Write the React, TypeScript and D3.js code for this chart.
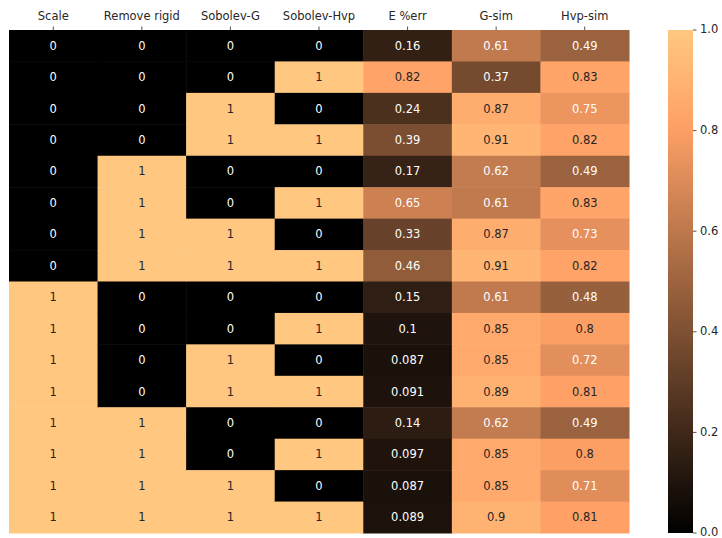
import React from "react";
import * as d3 from "d3";

// columns of the heatmap, left to right
const columns = ["Scale", "Remove rigid", "Sobolev-G", "Sobolev-Hvp", "E %err", "G-sim", "Hvp-sim"];

const scaleVals = [0, 0, 0, 0, 0, 0, 0, 0, 1, 1, 1, 1, 1, 1, 1, 1];
const removeRigid = [0, 0, 0, 0, 1, 1, 1, 1, 0, 0, 0, 0, 1, 1, 1, 1];
const sobolevG = [0, 0, 1, 1, 0, 0, 1, 1, 0, 0, 1, 1, 0, 0, 1, 1];
const sobolevHvp = [0, 1, 0, 1, 0, 1, 0, 1, 0, 1, 0, 1, 0, 1, 0, 1];
const eErr = [0.16, 0.82, 0.24, 0.39, 0.17, 0.65, 0.33, 0.46, 0.15, 0.1, 0.087, 0.091, 0.14, 0.097, 0.087, 0.089];
const gSim = [0.61, 0.37, 0.87, 0.91, 0.62, 0.61, 0.87, 0.91, 0.61, 0.85, 0.85, 0.89, 0.62, 0.85, 0.85, 0.9];
const hvpSim = [0.49, 0.83, 0.75, 0.82, 0.49, 0.83, 0.73, 0.82, 0.48, 0.8, 0.72, 0.81, 0.49, 0.8, 0.71, 0.81];

const colorTicks = [0, 0.2, 0.4, 0.6, 0.8, 1.0];

const W = 722;
const H = 538;
const plot = { left: 9, right: 629, top: 30, bottom: 533 };
const cbar = { left: 668, width: 25 };
const FONT = "DejaVu Sans, sans-serif";
const FS = 11.5;

// matplotlib "copper"
function copper(v: number): string {
  const t = Math.max(0, Math.min(1, v));
  const r = Math.min(1, t / 0.809524);
  const g = 0.7812 * t;
  const b = 0.4975 * t;
  return d3.rgb(r * 255, g * 255, b * 255).formatHex();
}

// seaborn picks the annotation colour from the cell luminance
function textColor(fill: string): string {
  const c = d3.rgb(fill);
  const lin = (x: number) => {
    const s = x / 255;
    return s <= 0.03928 ? s / 12.92 : Math.pow((s + 0.055) / 1.055, 2.4);
  };
  const L = 0.2126 * lin(c.r) + 0.7152 * lin(c.g) + 0.0722 * lin(c.b);
  return L > 0.408 ? "#262626" : "#ffffff";
}

function fmt(v: number): string {
  return String(Number(v.toPrecision(2)));
}

export default function App() {
  const series = [scaleVals, removeRigid, sobolevG, sobolevHvp, eErr, gSim, hvpSim];
  const nRows = scaleVals.length;

  const x = d3.scaleBand<string>().domain(columns).range([plot.left, plot.right]);
  const y = d3
    .scaleBand<number>()
    .domain(d3.range(nRows))
    .range([plot.top, plot.bottom]);
  const cy = d3.scaleLinear().domain([0, 1]).range([plot.bottom, plot.top]);

  const gradStops = d3.range(0, 1.0001, 0.05);

  return (
    <svg
      width={W}
      height={H}
      style={{ position: "absolute", left: 0, top: 0, background: "#fff" }}
      fontFamily={FONT}
    >
      <defs>
        <linearGradient id="cmap" x1="0" y1="1" x2="0" y2="0">
          {gradStops.map((s) => (
            <stop key={s} offset={s} stopColor={copper(s)} />
          ))}
        </linearGradient>
      </defs>

      {/* cells */}
      {columns.map((col, ci) =>
        series[ci].map((v, ri) => {
          const fill = copper(v);
          const x0 = x(col)!;
          const y0 = y(ri)!;
          return (
            <g key={col + ri}>
              <rect
                x={x0}
                y={y0}
                width={x.bandwidth() + 0.5}
                height={y.bandwidth() + 0.5}
                fill={fill}
              />
              <text
                x={x0 + x.bandwidth() / 2}
                y={y0 + y.bandwidth() / 2}
                dy="0.35em"
                textAnchor="middle"
                fontSize={FS}
                fill={textColor(fill)}
              >
                {fmt(v)}
              </text>
            </g>
          );
        })
      )}

      {/* top axis */}
      {columns.map((col) => {
        const cx = x(col)! + x.bandwidth() / 2;
        return (
          <g key={"t" + col}>
            <line x1={cx} x2={cx} y1={plot.top} y2={plot.top - 3.5} stroke="#262626" strokeWidth={0.8} />
            <text x={cx} y={plot.top - 10} textAnchor="middle" fontSize={FS} fill="#262626">
              {col}
            </text>
          </g>
        );
      })}

      {/* colorbar */}
      <rect
        x={cbar.left}
        y={plot.top}
        width={cbar.width}
        height={plot.bottom - plot.top}
        fill="url(#cmap)"
      />
      {colorTicks.map((t) => (
        <g key={"c" + t}>
          <line
            x1={cbar.left + cbar.width}
            x2={cbar.left + cbar.width + 3.5}
            y1={cy(t)}
            y2={cy(t)}
            stroke="#262626"
            strokeWidth={0.8}
          />
          <text
            x={cbar.left + cbar.width + 7}
            y={cy(t)}
            dy="0.3em"
            fontSize={FS}
            fill="#262626"
          >
            {t.toFixed(1)}
          </text>
        </g>
      ))}
    </svg>
  );
}
